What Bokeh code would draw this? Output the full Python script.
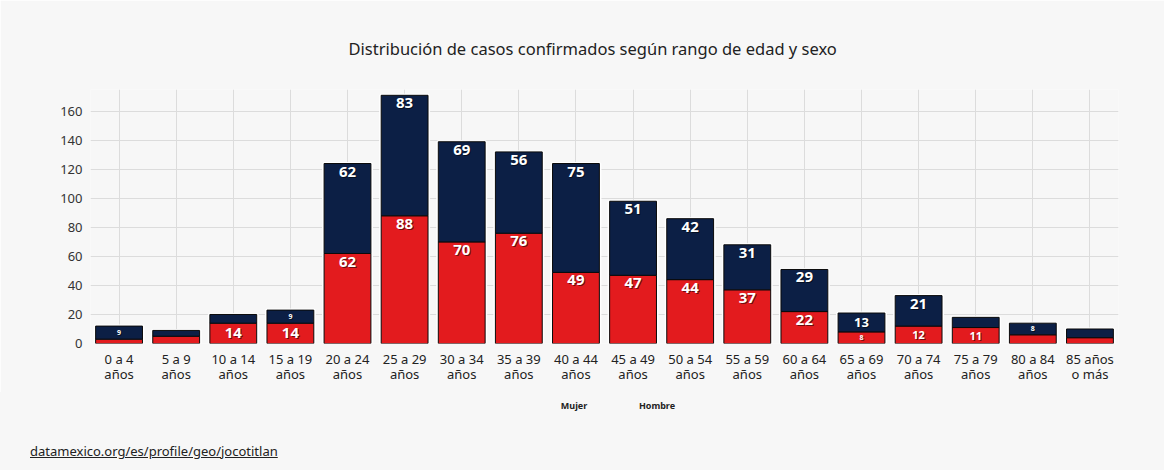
from bokeh.plotting import figure
from bokeh.models import ColumnDataSource, FactorRange, Div
from bokeh.layouts import column
from bokeh.core.properties import value
from bokeh.embed import file_html
from bokeh.resources import INLINE

categories = ["0 a 4\naños", "5 a 9\naños", "10 a 14\naños", "15 a 19\naños",
              "20 a 24\naños", "25 a 29\naños", "30 a 34\naños", "35 a 39\naños",
              "40 a 44\naños", "45 a 49\naños", "50 a 54\naños", "55 a 59\naños",
              "60 a 64\naños", "65 a 69\naños", "70 a 74\naños", "75 a 79\naños",
              "80 a 84\naños", "85 años\no más"]
mujer = [3, 5, 14, 14, 62, 88, 70, 76, 49, 47, 44, 37, 22, 8, 12, 11, 6, 4]
hombre = [9, 4, 6, 9, 62, 83, 69, 56, 75, 51, 42, 31, 29, 13, 21, 7, 8, 6]
series = ["Mujer", "Hombre"]
y_ticks = [0, 20, 40, 60, 80, 100, 120, 140, 160]
title_text = "Distribución de casos confirmados según rango de edad y sexo"
source_text = "datamexico.org/es/profile/geo/jocotitlan"

RED = "#e31b1e"
NAVY = "#0c1f45"
BG = "#f7f7f7"
FONT = "Noto Sans"

W = 1164
FIG_H = 392
p = figure(x_range=FactorRange(*categories, range_padding=0), y_range=(0, 175),
           width=W, height=FIG_H, output_backend="svg", toolbar_location=None,
           background_fill_color=BG, border_fill_color=BG,
           min_border_left=90, min_border_right=46, min_border_top=89, min_border_bottom=49)
p.outline_line_color = None

total = [m + h for m, h in zip(mujer, hombre)]
src = ColumnDataSource(dict(cat=categories, Mujer=mujer, Hombre=hombre, total=total))

# white halo behind bars
p.vbar(x="cat", top="total", width=0.84, source=src, fill_color="white",
       line_color="white", line_width=3)
bars = p.vbar_stack(series, x="cat", width=0.82, color=[RED, NAVY], source=src,
                    line_color="#0a0a0a", line_width=1)

# value labels
px_per_unit = 254.0 / 175.0
lx, ly, lt, lfs, lbase = [], [], [], [], []
for c, m, h in zip(categories, mujer, hombre):
    for lo, v in ((0, m), (m, h)):
        if v < 8:
            continue
        hpx = v * px_per_unit
        if v >= 14:
            fs = "15px"
        elif v >= 13:
            fs = "13px"
        elif v >= 11:
            fs = "11px"
        else:
            fs = "7px"
        lx.append(c)
        lt.append(str(v))
        lfs.append(fs)
        if hpx > 30:
            ly.append(lo + v - 3.0 / px_per_unit)
            lbase.append("top")
        else:
            ly.append(lo + v / 2.0)
            lbase.append("middle")
lsrc = ColumnDataSource(dict(x=lx, y=ly, text=lt, fs=lfs, base=lbase))
p.text(x="x", y="y", text="text", source=lsrc, text_font=value(FONT), text_font_style="bold",
       text_font_size="fs", text_color="#000000", text_alpha=0.55, text_align="center",
       text_baseline="base", x_offset=1, y_offset=1)
p.text(x="x", y="y", text="text", source=lsrc, text_font=value(FONT), text_font_style="bold",
       text_font_size="fs", text_color="white", text_align="center", text_baseline="base")

# axes
p.yaxis.ticker = y_ticks
p.yaxis.axis_line_color = None
p.yaxis.major_tick_line_color = None
p.yaxis.minor_tick_line_color = None
p.yaxis.major_label_text_font = FONT
p.yaxis.major_label_text_font_size = "13px"
p.yaxis.major_label_text_color = "#333333"
p.yaxis.major_label_standoff = 2

p.xaxis.axis_line_color = None
p.xaxis.major_tick_line_color = None
p.xaxis.major_label_text_font = FONT
p.xaxis.major_label_text_font_size = "13px"
p.xaxis.major_label_text_color = "#222222"
p.xaxis.major_label_standoff = 0
p.xaxis.major_label_text_line_height = 0.85

p.grid.grid_line_color = "#dcdcdc"
p.grid.grid_line_width = 1

# title
p.title.text = title_text
p.title.align = "left"
p.title.offset = 258
p.title.text_font = FONT
p.title.text_font_size = "16.5px"
p.title.text_font_style = "normal"
p.title.text_color = "#222222"
p.title.standoff = 59

# legend texts and source below the chart
legend_spans = "".join(
    f'<span style="position:absolute;left:{xc}px;top:8px;transform:translateX(-50%);'
    f'font-size:9px;font-weight:bold;color:#222;">{name}</span>'
    for name, xc in zip(series, (574, 657)))
FOOT_H = 470 - FIG_H
footer_html = (
    f'<div style="position:relative;width:{W}px;height:{FOOT_H}px;background:{BG};'
    f"font-family:'{FONT}',sans-serif;\">"
    + legend_spans
    + f'<span style="position:absolute;left:30px;top:50px;font-size:13px;color:#222;'
      f'text-decoration:underline;">{source_text}</span></div>'
)
footer = Div(text=footer_html, width=W, height=FOOT_H, margin=(0, 0, 0, 0))

layout = column(p, footer, spacing=0)
open("out.html", "w").write(file_html(layout, INLINE))
